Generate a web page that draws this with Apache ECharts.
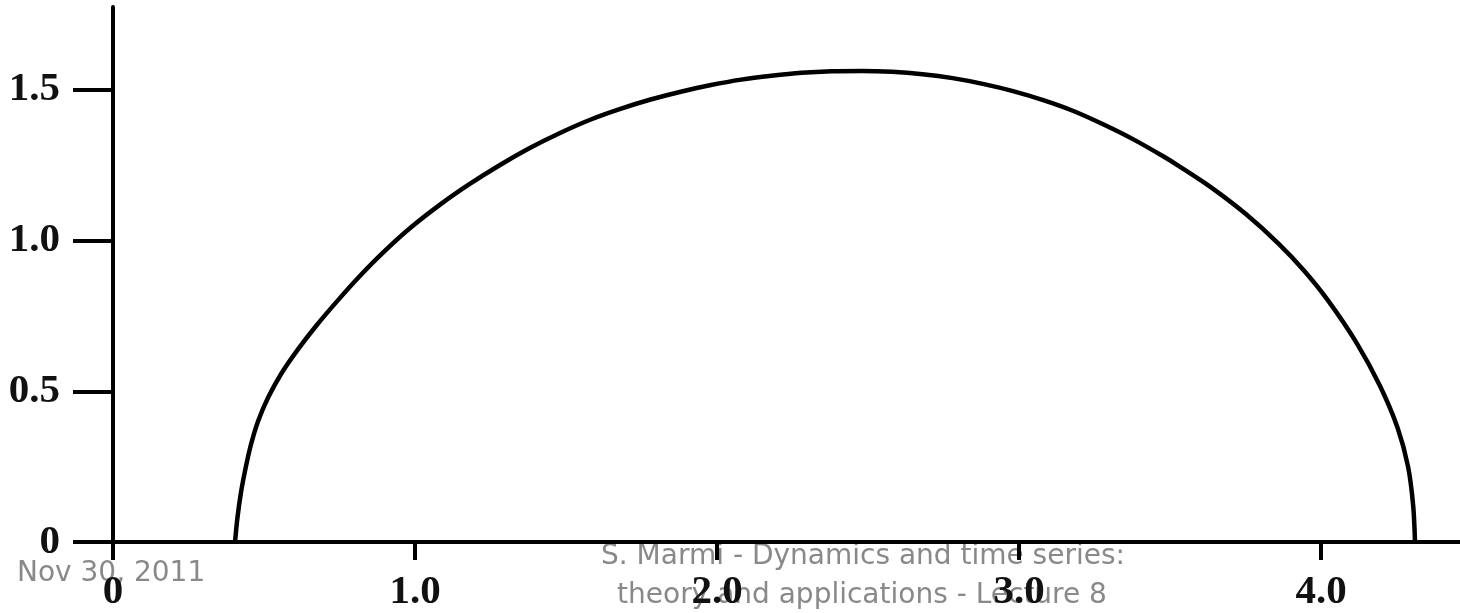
<!DOCTYPE html>
<html>
<head>
<meta charset="utf-8">
<script src="https://cdn.jsdelivr.net/npm/echarts@6/dist/echarts.min.js"></script>
<style>
  html, body { margin: 0; padding: 0; background: #fff; }
  #chart { width: 1460px; height: 613px; }
</style>
</head>
<body>
<div id="chart"></div>
<script>
// Spectral density curve: abscissa and ordinate samples along the arc
const curveX = [0.404, 0.412, 0.423, 0.438, 0.456, 0.480, 0.514, 0.558, 0.613, 0.675,
                0.743, 0.815, 0.894, 0.982, 1.084, 1.180, 1.280, 1.380, 1.480, 1.580,
                1.680, 1.780, 1.880, 1.980, 2.080, 2.180, 2.280, 2.380, 2.480, 2.580,
                2.680, 2.780, 2.880, 2.980, 3.080, 3.180, 3.280, 3.380, 3.480, 3.528,
                3.638, 3.751, 3.859, 3.944, 4.024, 4.118, 4.194, 4.253, 4.288, 4.305,
                4.311];
const curveY = [0.000, 0.080, 0.160, 0.240, 0.320, 0.400, 0.480, 0.560, 0.640, 0.720,
                0.800, 0.880, 0.960, 1.040, 1.120, 1.187, 1.250, 1.307, 1.357, 1.401,
                1.437, 1.468, 1.494, 1.516, 1.534, 1.547, 1.557, 1.562, 1.563, 1.560,
                1.552, 1.539, 1.520, 1.496, 1.466, 1.430, 1.385, 1.335, 1.278, 1.248,
                1.175, 1.088, 0.990, 0.900, 0.800, 0.660, 0.520, 0.380, 0.250, 0.120,
                0.000];

// Tick positions on each axis
const xTicks = [0, 1, 2, 3, 4];
const yTicks = [0, 0.5, 1.0, 1.5];

// Footer captions
const footerDate = 'Nov 30, 2011';
const footerLine1 = 'S. Marmi - Dynamics and time series:';
const footerLine2 = 'theory and applications - Lecture 8';

const points = curveX.map((x, i) => [x, curveY[i]]);
const fmt = v => (v === 0 ? '0' : v.toFixed(1));

const tickFont = {
  fontFamily: '"Liberation Serif", "DejaVu Serif", serif',
  fontWeight: 'bold',
  fontSize: 41,
  color: '#111'
};
const footerFont = {
  fontFamily: '"DejaVu Sans", Verdana, sans-serif',
  fontSize: 28,
  fill: '#898989'
};

const chart = echarts.init(document.getElementById('chart'), null, { renderer: 'canvas' });
chart.setOption({
  animation: false,
  backgroundColor: '#fff',
  grid: { left: 113, right: 0, top: 7, bottom: 70, containLabel: false },
  xAxis: {
    type: 'value',
    min: 0,
    max: 4.46,
    splitLine: { show: false },
    axisLine: { onZero: false, lineStyle: { color: '#000', width: 4 } },
    axisTick: { customValues: xTicks, length: 18, lineStyle: { color: '#000', width: 4 } },
    axisLabel: Object.assign({ customValues: xTicks, margin: 30, formatter: fmt }, tickFont)
  },
  yAxis: {
    type: 'value',
    min: 0,
    max: 1.775,
    splitLine: { show: false },
    axisLine: { onZero: false, lineStyle: { color: '#000', width: 4 } },
    axisTick: { customValues: yTicks, length: 40, lineStyle: { color: '#000', width: 4 } },
    axisLabel: Object.assign({ customValues: yTicks, margin: 53, formatter: fmt }, tickFont)
  },
  series: [{
    type: 'line',
    data: points,
    showSymbol: false,
    smooth: 0.3,
    lineStyle: { color: '#000', width: 4.5 }
  }],
  graphic: [
    { type: 'text', left: 17, top: 560, style: Object.assign({ text: footerDate }, footerFont) },
    { type: 'text', style: Object.assign({ text: footerLine1, x: 863, y: 543, textAlign: 'center' }, footerFont) },
    { type: 'text', style: Object.assign({ text: footerLine2, x: 862, y: 582, textAlign: 'center' }, footerFont) }
  ]
});
</script>
</body>
</html>
